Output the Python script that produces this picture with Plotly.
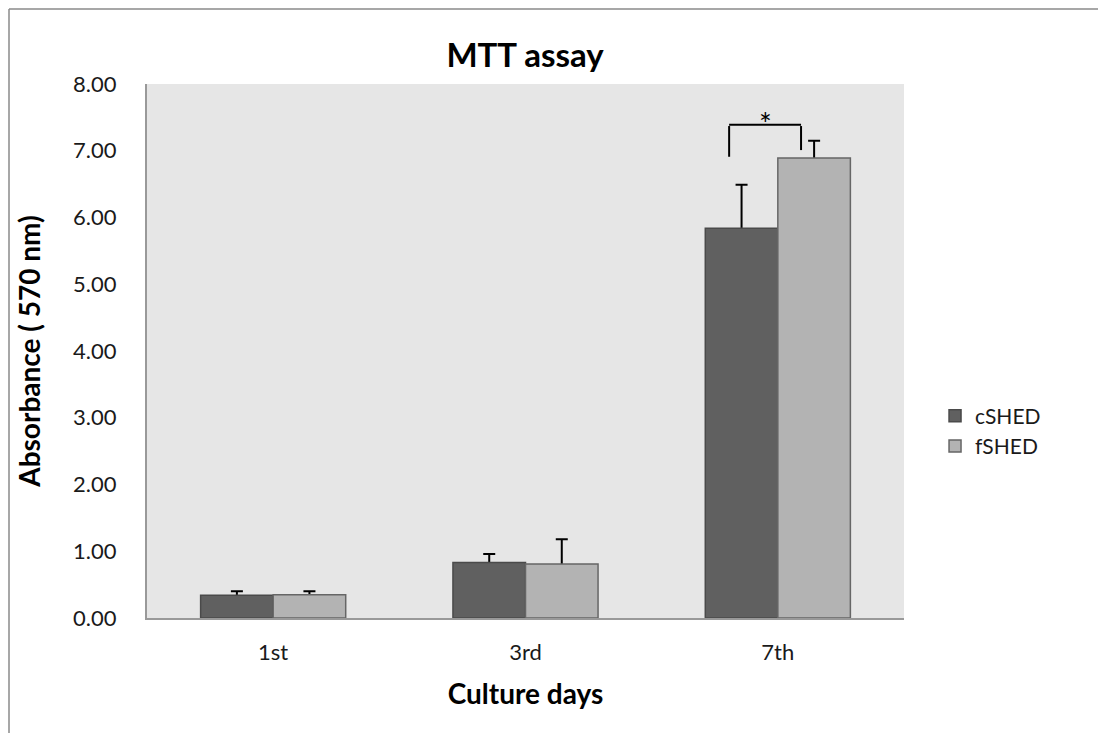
import plotly.graph_objects as go

categories = ["1st", "3rd", "7th"]
cshed = [0.34, 0.83, 5.84]
cshed_err = [0.06, 0.13, 0.65]
fshed = [0.35, 0.81, 6.89]
fshed_err = [0.05, 0.37, 0.26]
yticks = [0, 1, 2, 3, 4, 5, 6, 7, 8]

FONT = "Lato, 'Open Sans', sans-serif"

# figure is placed 8px in from the page corner by the page's body margin
W, H = 1098, 725
L, R, T, B = 139, 202, 76, 115
PW, PH = W - L - R, H - T - B

fig = go.Figure()
# error bars (drawn first, so the opaque bars hide their lower half)
for name, vals, errs in [("cSHED", cshed, cshed_err), ("fSHED", fshed, fshed_err)]:
    fig.add_trace(go.Bar(
        name=name, x=categories, y=vals, offsetgroup=name, showlegend=False,
        hoverinfo="skip",
        marker=dict(color="rgba(0,0,0,0)", line=dict(width=0)),
        error_y=dict(type="data", array=errs, symmetric=True,
                     color="black", thickness=2, width=6),
    ))
fig.add_trace(go.Bar(
    name="cSHED", x=categories, y=cshed, offsetgroup="cSHED",
    marker=dict(color="#606060", line=dict(color="#4a4a4a", width=1.5)),
))
fig.add_trace(go.Bar(
    name="fSHED", x=categories, y=fshed, offsetgroup="fSHED",
    marker=dict(color="#b3b3b3", line=dict(color="#666666", width=1.5)),
))

bx0, bx1 = 1.807, 2.092
bx_left = (1 - L) / PW
by_top = 1 + (T - 1) / PH
shapes = [
    dict(type="line", xref="x", yref="y", x0=bx0, x1=bx1, y0=7.39, y1=7.39,
         line=dict(color="black", width=2)),
    dict(type="line", xref="x", yref="y", x0=bx0, x1=bx0, y0=6.91, y1=7.37,
         line=dict(color="black", width=2)),
    dict(type="line", xref="x", yref="y", x0=bx1, x1=bx1, y0=7.01, y1=7.37,
         line=dict(color="black", width=2)),
    dict(type="line", xref="paper", yref="paper", x0=bx_left, x1=bx_left,
         y0=-0.3, y1=by_top, line=dict(color="#8a8a8a", width=1.5)),
    dict(type="line", xref="paper", yref="paper", x0=bx_left, x1=1.4,
         y0=by_top, y1=by_top, line=dict(color="#8a8a8a", width=1.5)),
]

fig.update_layout(
    width=W, height=H,
    margin=dict(l=L, r=R, t=T, b=B),
    paper_bgcolor="white",
    plot_bgcolor="#e6e6e6",
    barmode="group",
    bargap=0.425,
    bargroupgap=0,
    font=dict(family=FONT, size=22, color="#1a1a1a"),
    title=dict(text="<b>MTT assay</b>", x=517 / W, xanchor="center",
               y=1 - 47 / H, yanchor="middle",
               font=dict(family=FONT, size=33, color="black")),
    showlegend=True,
    legend=dict(x=1.041, y=0.35, xanchor="left", yanchor="middle",
                font=dict(family=FONT, size=21, color="#1a1a1a"),
                tracegroupgap=0, itemwidth=30, bgcolor="rgba(0,0,0,0)"),
    shapes=shapes,
    annotations=[dict(text="*", x=(bx0 + bx1) / 2, y=7.42, xref="x", yref="y",
                      showarrow=False, font=dict(family=FONT, size=30, color="black"))],
)

fig.update_yaxes(
    range=[0, 8], tickvals=yticks, tickformat=".2f",
    showgrid=False, zeroline=False,
    showline=True, linecolor="#999999", linewidth=2,
    ticks="", ticklabelstandoff=24,
    title=dict(text="<b>Absorbance ( 570 nm)</b>", font=dict(family=FONT, size=28, color="black"),
               standoff=24),
)
fig.update_xaxes(
    showgrid=False, showline=True, linecolor="#999999", linewidth=2,
    ticks="", ticklabelstandoff=14,
    title=dict(text="<b>Culture days</b>", font=dict(family=FONT, size=28, color="black"),
               standoff=20),
)

fig.write_html("out.html")
